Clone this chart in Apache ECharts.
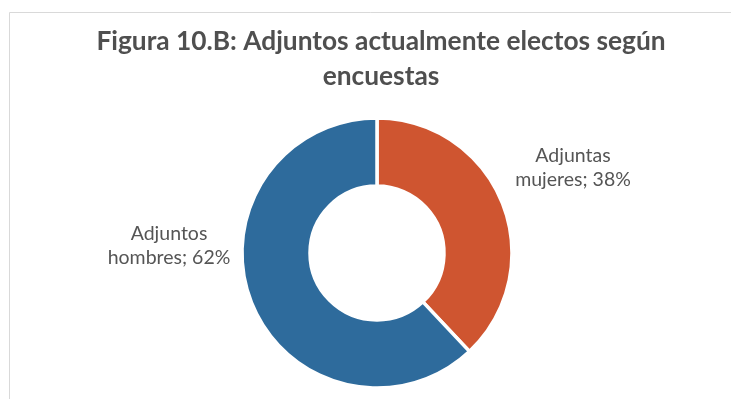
<!DOCTYPE html>
<html>
<head>
<meta charset="utf-8">
<script src="https://cdn.jsdelivr.net/npm/echarts@6/dist/echarts.min.js"></script>
<style>
  html, body { margin: 0; padding: 0; background: #ffffff; }
  #chart { width: 731px; height: 399px; }
</style>
</head>
<body>
<div id="chart"></div>
<script>
// Shares of elected deputies by sex (percent)
const categories = ['Adjuntas\nmujeres', 'Adjuntos\nhombres'];
const shares = [38, 62];
const sliceColors = ['#cf5530', '#2e6b9c'];

const titleText = 'Figura 10.B: Adjuntos actualmente electos según\nencuestas';

// Label anchor points (pixels) for each slice's text block
const labelAnchors = [
  { x: 573, y: 168 },
  { x: 169, y: 246 }
];

const chart = echarts.init(document.getElementById('chart'), null, { renderer: 'canvas' });

chart.setOption({
  backgroundColor: '#ffffff',
  animation: false,
  title: {
    text: titleText,
    left: 376,
    top: 19,
    textAlign: 'center',
    textStyle: {
      fontFamily: 'Lato',
      fontWeight: 'bold',
      fontSize: 26.3,
      lineHeight: 35,
      color: '#4f4f4f'
    }
  },
  graphic: [{
    type: 'rect',
    shape: { x: 9.5, y: 12.5, width: 800, height: 500 },
    style: { fill: 'none', stroke: '#d9d9d9', lineWidth: 1 },
    silent: true,
    z: -1
  }],
  series: [{
    type: 'pie',
    center: [377, 253],
    radius: [67, 135],
    startAngle: 90,
    clockwise: true,
    avoidLabelOverlap: false,
    data: categories.map((name, i) => ({
      name: name,
      value: shares[i],
      itemStyle: { color: sliceColors[i] }
    })),
    itemStyle: { borderColor: '#ffffff', borderWidth: 3.5 },
    label: {
      show: true,
      position: 'outside',
      formatter: '{b}; {c}%',
      fontFamily: 'Lato',
      fontSize: 19.5,
      lineHeight: 24,
      color: '#555555',
      align: 'center'
    },
    labelLine: { show: false },
    labelLayout: function (params) {
      const a = labelAnchors[params.dataIndex];
      return { x: a.x, y: a.y, align: 'center', verticalAlign: 'middle' };
    },
    emphasis: { disabled: true }
  }]
});
</script>
</body>
</html>
